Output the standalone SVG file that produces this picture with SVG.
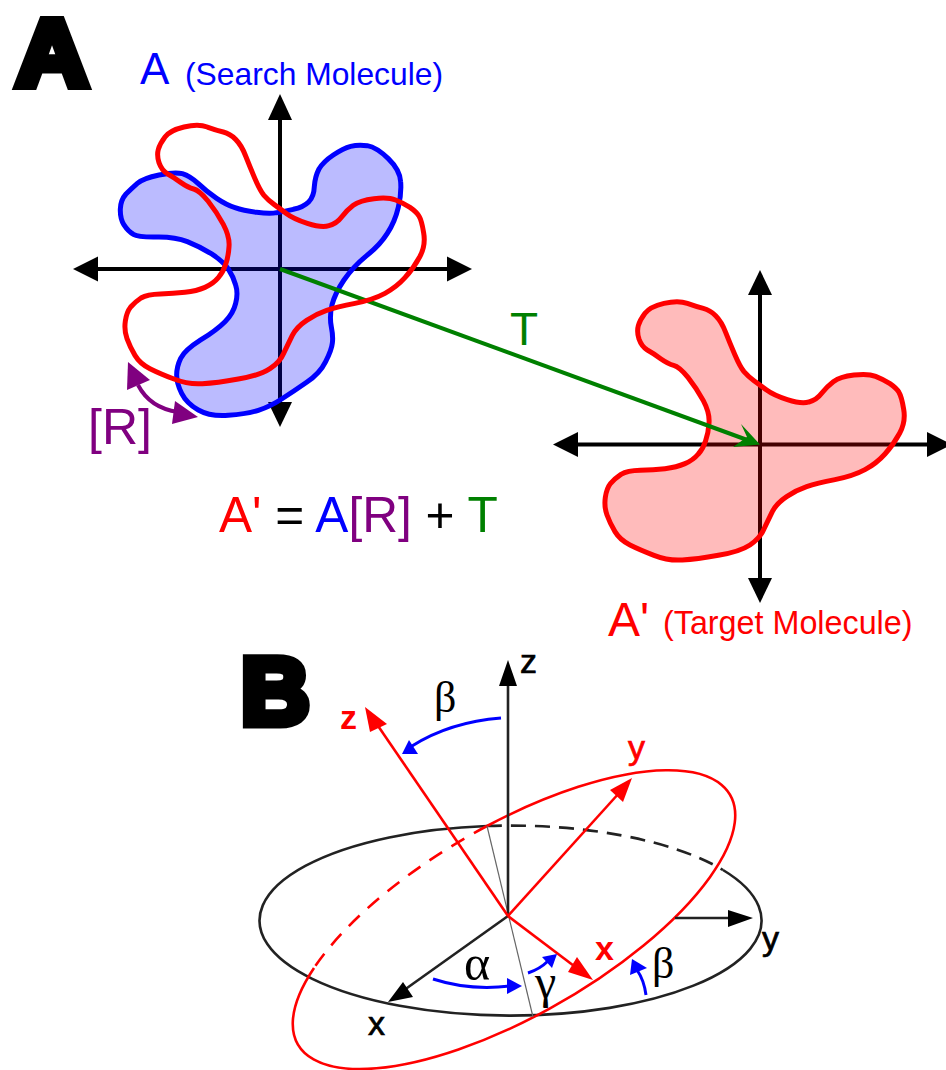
<svg xmlns="http://www.w3.org/2000/svg" width="946" height="1070" viewBox="0 0 946 1070">
<style>
text{font-family:"Liberation Sans",Arial,sans-serif}
.ax{stroke:#000;stroke-width:4;fill:none}
.hd{fill:#000;stroke:none}
.shape{stroke-width:15;stroke-linejoin:round}
.big{font-size:95px;font-weight:bold;stroke:#000;stroke-width:9;stroke-linejoin:miter;stroke-miterlimit:2}
.lab{font-size:34px}
.lk{stroke:#000;stroke-width:.7}
.gr{font-family:"Liberation Serif",serif;font-size:44px}
.bl{stroke:#00f;stroke-width:3;fill:none}
.rd{stroke:#f00;stroke-width:2.600;fill:none}
.bk{stroke:#222;stroke-width:2.600;fill:none}
</style>
<defs>
<path id="mol" d="M442,130Q415,120 372,130Q330,140 315,160Q300,180 295,197Q290,215 297,237Q305,260 322,270Q340,280 362,296Q385,312 401,316Q418,320 444,352Q470,385 490,422Q510,460 507,490Q505,520 497,542Q490,565 475,582Q460,600 435,611Q410,622 375,626Q340,630 301,631Q262,632 243,643Q225,655 212,670Q200,685 196,712Q192,740 201,765Q210,790 225,815Q240,840 270,855Q300,870 342,886Q385,903 427,900Q470,898 535,886Q600,875 630,855Q660,835 672,807Q685,780 697,755Q710,730 740,710Q770,690 800,680Q830,670 885,659Q940,648 975,629Q1010,610 1035,582Q1060,555 1079,520Q1098,485 1091,447Q1085,410 1077,397Q1070,385 1050,371Q1030,358 1007,349Q985,340 942,345Q900,350 880,365Q860,380 845,400Q830,420 807,426Q785,433 742,419Q700,405 680,390Q660,375 642,362Q625,350 612,335Q600,320 585,285Q570,250 557,217Q545,185 527,167Q510,150 490,145Q470,140 442,130Z"/>
</defs>
<g id="panel-A-axes">
<path class="ax" d="M95,269H450M280,118V405"/>
<polygon class="hd" points="73,269 98,256.500 98,281.500"/>
<polygon class="hd" points="472,269 447,256.500 447,281.500"/>
<polygon class="hd" points="280,94 268,120 292,120"/>
<polygon class="hd" points="280,427 268,402 292,402"/>
</g>
<g id="search-molecule">
<path transform="translate(60 90) scale(.3333)" class="shape" fill="#00f" fill-opacity=".267" stroke="#00f" d="M367,251Q345,245 297,255Q250,265 232,280Q215,295 198,312Q182,330 181,357Q180,385 192,405Q205,425 220,433Q235,442 290,441Q345,440 382,455Q420,470 455,492Q490,515 505,537Q520,560 527,585Q535,610 527,640Q520,670 495,695Q470,720 422,750Q375,780 362,805Q350,830 350,855Q350,880 365,910Q380,940 415,960Q450,980 505,976Q560,972 595,961Q630,950 665,927Q700,905 740,877Q780,850 797,815Q815,780 817,760Q820,740 814,710Q808,680 816,645Q825,610 852,570Q880,530 920,497Q960,465 982,430Q1005,395 1015,352Q1025,310 1022,275Q1020,240 985,206Q950,172 922,167Q895,163 872,169Q850,175 820,195Q790,215 777,237Q765,260 763,290Q762,320 746,336Q730,352 700,358Q670,365 650,368Q630,372 590,367Q550,362 525,353Q500,345 470,325Q440,305 415,281Q390,258 367,251Z"/>
</g>
<g id="panel-A-target-axes">
<path class="ax" d="M575,444.500H930M760,293V580"/>
<polygon class="hd" points="553,444.500 578,432 578,457"/>
<polygon class="hd" points="952,444.500 927,432 927,457"/>
<polygon class="hd" points="760,270 748,295 772,295"/>
<polygon class="hd" points="760,603 748,578 772,578"/>
</g>
<g id="target-molecule">
<use href="#mol" transform="translate(540 260) scale(.3333)" class="shape" fill="#f00" fill-opacity=".267" stroke="#f00"/>
</g>
<g id="connectors">
<path d="M280,269L750,441" stroke="#008000" stroke-width="4" fill="none"/>
<polygon points="760,444.500 741,424 747,437 733,447" fill="#008000"/>
<path d="M138,385Q150,408 178,412" stroke="#800080" stroke-width="4" fill="none"/>
<polygon points="128,362 127,390 150,380" fill="#800080"/>
<polygon points="198,417 175,401 172,424" fill="#800080"/>
</g>
<g id="rotated-outline">
<use href="#mol" transform="translate(60 83.700) scale(.3333)" class="shape" fill="none" stroke="#f00"/>
</g>
<g id="panel-A-labels">
<text class="big" transform="translate(16 86) scale(1.05 1)">A</text>
<text x="140" y="84" font-size="44" fill="#00f">A</text>
<text x="185" y="85" font-size="31.800" fill="#00f">(Search Molecule)</text>
<text x="88" y="444" font-size="50" fill="#800080">[R]</text>
<text x="510" y="345" font-size="46" fill="#008000">T</text>
<text x="219" y="532" font-size="49.600"><tspan fill="#f00">A'</tspan> = <tspan fill="#00f">A</tspan><tspan fill="#800080">[R]</tspan> + <tspan fill="#008000">T</tspan></text>
<text x="608" y="636" font-size="48" fill="#f00">A'</text>
<text x="663" y="634" font-size="32.300" fill="#f00">(Target Molecule)</text>
</g>
<g id="panel-B-ellipses">
<path class="bk" d="M723,870A251,95 0 1 1 487,826"/>
<path class="bk" stroke-dasharray="15 9" d="M487,826A251,95 0 0 1 723,870"/>
<path class="rd" d="M314,968A249.500,95 -30 1 0 487,826"/>
<path class="rd" stroke-dasharray="15 11" d="M487,826A249.500,95 -30 0 0 314,968"/>
<path d="M487,826L533,1017" stroke="#666" stroke-width="1.200" fill="none"/>
</g>
<g id="panel-B-black-axes">
<path class="bk" d="M508,916V684"/>
<polygon class="hd" points="508,660 499,686 517,686"/>
<path class="bk" d="M508,916L400,993"/>
<polygon class="hd" points="388,1002 403,982 413,997"/>
<path class="bk" d="M675,918H730"/>
<polygon class="hd" points="753,918 728,910 728,927"/>
</g>
<g id="panel-B-red-axes">
<path class="rd" d="M508,916L374,720"/>
<polygon fill="#f00" points="365,707 370,732 387,724"/>
<path class="rd" d="M508,916L620,792"/>
<polygon fill="#f00" points="632,778 610,790 623,802"/>
<path class="rd" d="M508,916L582,972"/>
<polygon fill="#f00" points="593,980 568,972 577,957"/>
</g>
<g id="panel-B-angle-arrows">
<path class="bl" d="M501,718Q450,722 412,746"/>
<polygon fill="#00f" points="402,754 409,740 418,754"/>
<path class="bl" d="M433,979Q470,991 510,986"/>
<polygon fill="#00f" points="522,986 507,978 507,994"/>
<path class="bl" d="M528,973Q540,969 548,961"/>
<polygon fill="#00f" points="557,954 542,957 552,968"/>
<path class="bl" d="M646,995Q644,980 637,970"/>
<polygon fill="#00f" points="632,959 630,975 647,968"/>
</g>
<g id="panel-B-labels">
<text class="big" x="241" y="724">B</text>
<text class="lab lk" x="520" y="673">z</text>
<text class="lab" x="340" y="729" fill="#f00" font-weight="bold">z</text>
<text class="lab" x="628" y="759" fill="#f00" stroke="#f00" stroke-width=".7">y</text>
<text class="lab lk" x="762" y="950">y</text>
<text class="lab lk" x="368" y="1035">x</text>
<text class="lab" x="595" y="960" fill="#f00" font-weight="bold">x</text>
<text class="gr" x="434" y="712">β</text>
<text class="gr" x="464" y="980" style="font-size:50px">α</text>
<text class="gr" x="535" y="998" style="font-size:48px">γ</text>
<text class="gr" x="652" y="978">β</text>
</g>
</svg>
